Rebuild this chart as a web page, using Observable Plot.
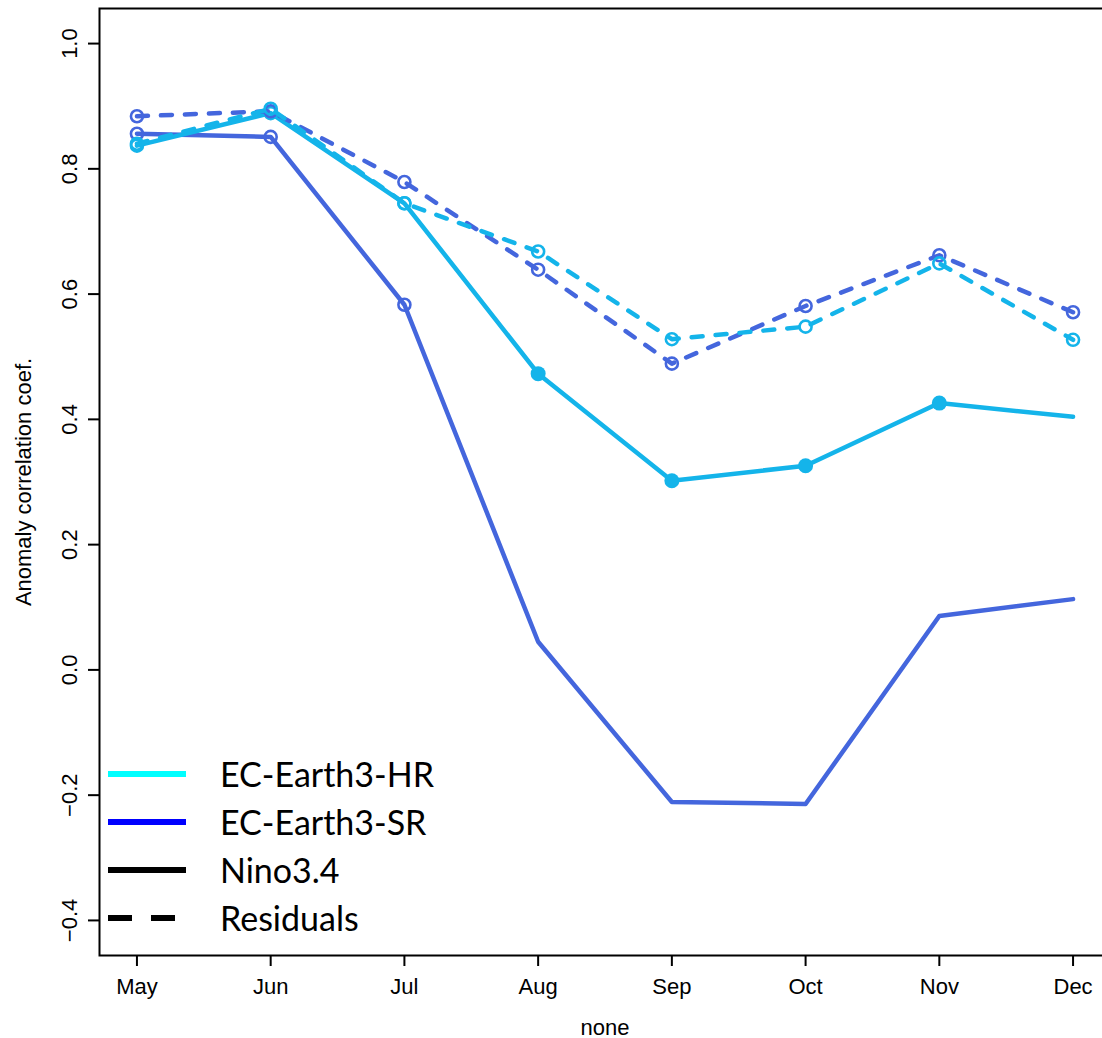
<!DOCTYPE html>
<html><head><meta charset="utf-8">
<script src="https://cdn.jsdelivr.net/npm/d3@7"></script>
<script src="https://cdn.jsdelivr.net/npm/@observablehq/plot@0.6"></script>
<style>
html,body{margin:0;padding:0;background:#fff;overflow:hidden;}
#wrap{position:relative;width:1102px;height:1038px;overflow:hidden;background:#fff;}
#chart svg{max-width:none !important;width:1110px !important;height:1038px !important;display:block;}
#legend{position:absolute;left:0;top:0;font-family:Lato,"Liberation Sans",sans-serif;font-size:34px;color:#000;}
.row{position:absolute;left:108px;height:48px;width:600px;}
.row svg{position:absolute;left:0;top:21px;}
.row span{position:absolute;left:112px;top:0;line-height:48px;white-space:nowrap;}
</style></head><body>
<div id="wrap"><div id="chart"></div><div id="legend"></div></div>
<script>
// ---- data ----
const months = ["May", "Jun", "Jul", "Aug", "Sep", "Oct", "Nov", "Dec"];
const hrNino  = [0.837, 0.889, 0.745, 0.473, 0.302, 0.326, 0.426, 0.404];
const srNino  = [0.856, 0.851, 0.583, 0.045, -0.211, -0.214, 0.086, 0.113];
const hrResid = [0.840, 0.896, 0.745, 0.668, 0.528, 0.548, 0.649, 0.527];
const srResid = [0.884, 0.892, 0.779, 0.639, 0.489, 0.581, 0.662, 0.571];
const hrNinoMark  = ["open", "open", "open", "filled", "filled", "filled", "filled", "none"];
const srNinoMark  = ["open", "open", "open", "none", "none", "none", "none", "none"];
const hrResidMark = ["open", "open", "open", "open", "open", "open", "open", "open"];
const srResidMark = ["open", "open", "open", "open", "open", "open", "open", "open"];
const yTicks = [-0.4, -0.2, 0.0, 0.2, 0.4, 0.6, 0.8, 1.0];
const yLimits = [-0.4, 1.0];
const legendLabels = ["EC-Earth3-HR", "EC-Earth3-SR", "Nino3.4", "Residuals"];
const legendColors = ["#00FFFF", "#0000FF", "#000000", "#000000"];
const legendDashed = [false, false, false, true];

const HR = "#14B4EA", SR = "#4466DD";

const series = [
  {name: "srNino", values: srNino, marks: srNinoMark, color: SR, dashed: false},
  {name: "hrNino", values: hrNino, marks: hrNinoMark, color: HR, dashed: false},
  {name: "srResid", values: srResid, marks: srResidMark, color: SR, dashed: true},
  {name: "hrResid", values: hrResid, marks: hrResidMark, color: HR, dashed: true}
];
const rows = s => s.values.map((v, i) => ({month: i + 1, value: v, mark: s.marks[i]}));

// R-style 4% axis extension
const xTicks = months.map((m, i) => i + 1);
const xPad = 0.04 * (xTicks.length - 1);
const xLim = [1 - xPad, xTicks.length + xPad];
const yPad = 0.04 * (yLimits[1] - yLimits[0]);
const yLim = [yLimits[0] - yPad, yLimits[1] + yPad];

const marks = [
  Plot.frame({stroke: "black", strokeWidth: 2}),
  Plot.axisX({ticks: xTicks, tickFormat: i => months[i - 1], tickSize: 11, tickPadding: 12,
    strokeWidth: 2, fontSize: 22, label: "none", labelAnchor: "center", labelOffset: 79, labelArrow: "none"}),
  Plot.axisY({ticks: yTicks, tickFormat: d3.format(".1f"), tickSize: 11, tickPadding: 12, tickRotate: -90,
    strokeWidth: 2, fontSize: 22, label: "Anomaly correlation coef.", labelAnchor: "center", labelOffset: 84, labelArrow: "none"})
];
for (const s of series) {
  const d = rows(s);
  marks.push(Plot.line(d, {x: "month", y: "value", stroke: s.color, strokeWidth: 4.5,
    strokeLinecap: "round", strokeLinejoin: "round",
    strokeDasharray: s.dashed ? "11,13" : null}));
  marks.push(Plot.dot(d.filter(r => r.mark === "open"), {x: "month", y: "value", r: 6,
    stroke: s.color, strokeWidth: 2.6, fill: "none"}));
  marks.push(Plot.dot(d.filter(r => r.mark === "filled"), {x: "month", y: "value", r: 7.5,
    fill: s.color, stroke: "none"}));
}

const plot = Plot.plot({
  width: 1110, height: 1038,
  marginLeft: 99, marginRight: 0, marginTop: 8, marginBottom: 83,
  style: {fontFamily: "'Liberation Sans', Arial, sans-serif", fontSize: "22px", background: "white", color: "black", maxWidth: "none"},
  x: {type: "linear", domain: xLim},
  y: {domain: yLim},
  marks
});
document.getElementById("chart").appendChild(plot);

// legend (inside plot area, bottom-left)
const legend = document.getElementById("legend");
legendLabels.forEach((lab, i) => {
  const row = document.createElement("div");
  row.className = "row";
  row.style.top = (750 + 48 * i) + "px";
  const dash = legendDashed[i] ? ' stroke-dasharray="24,19"' : "";
  row.innerHTML = `<svg width="78" height="6"><line x1="0" y1="3" x2="78" y2="3" stroke="${legendColors[i]}" stroke-width="6"${dash}/></svg><span>${lab}</span>`;
  legend.appendChild(row);
});
</script>
</body></html>
